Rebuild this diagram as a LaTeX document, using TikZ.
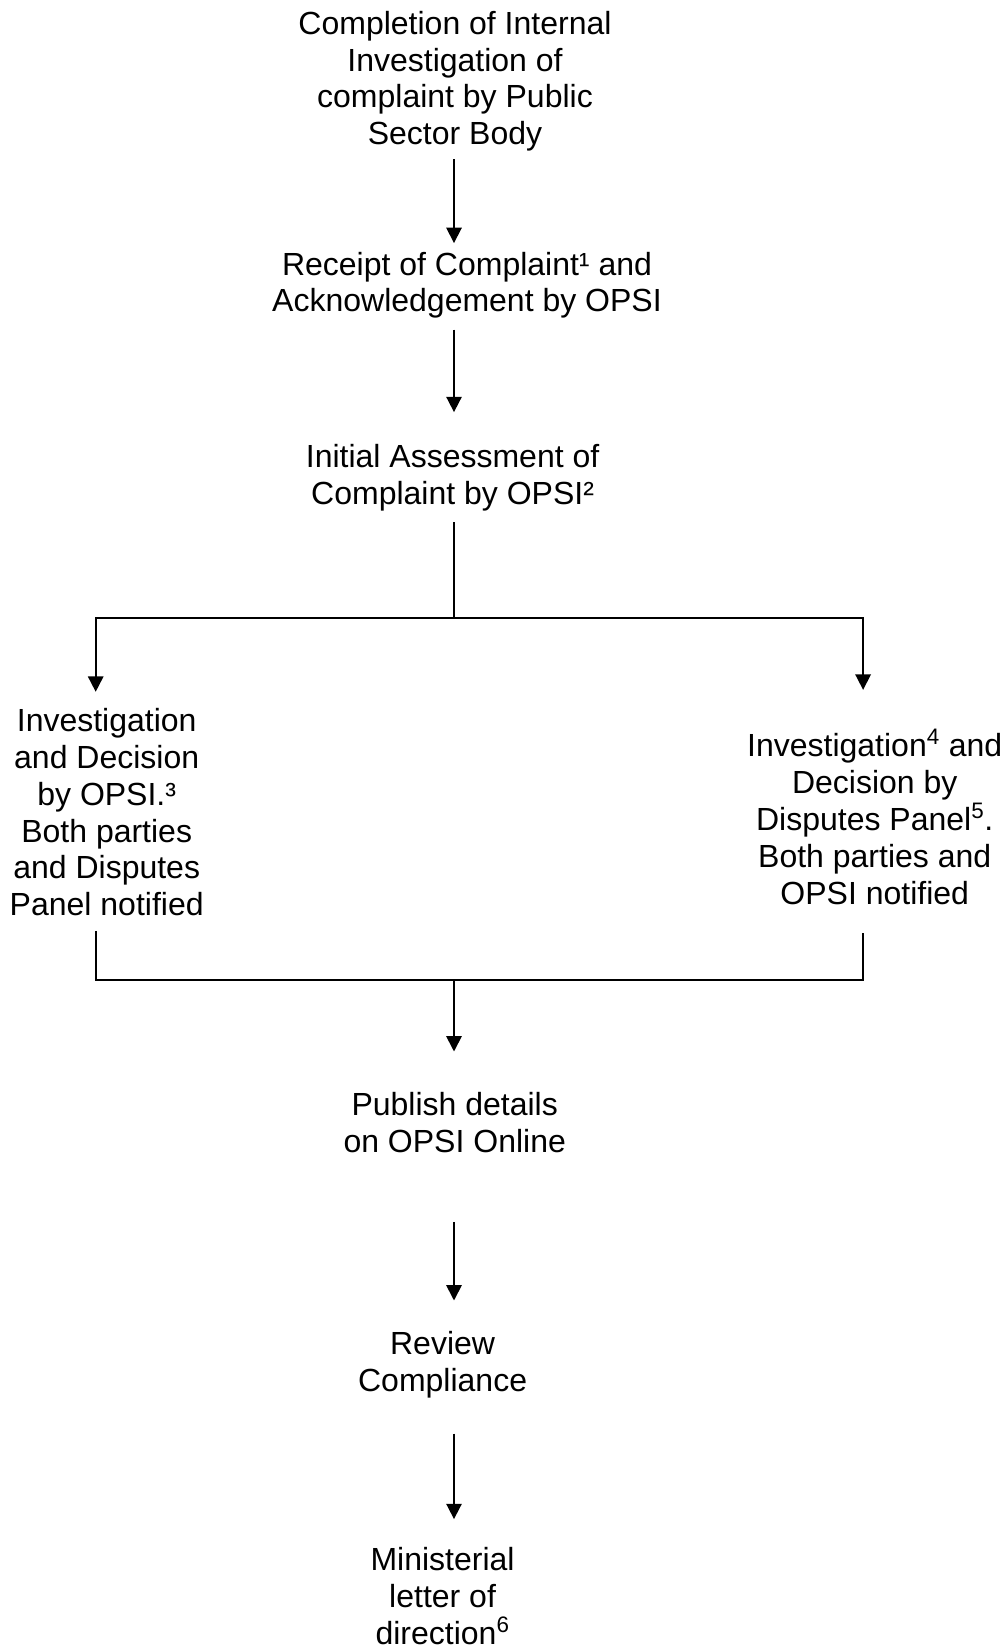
\documentclass[tikz,border=0pt]{standalone}
\usepackage{fontspec}
\setmainfont{Liberation Sans}
\usetikzlibrary{arrows.meta}
\tikzset{
  txt/.style={inner sep=0pt, align=center, font=\fontsize{24pt}{27.6pt}\selectfont},
  conn/.style={line width=1.3pt},
  arr/.style={line width=1.3pt, -{Triangle[width=11.5pt,length=11.5pt]}}
}
\begin{document}
\begin{tikzpicture}[x=0.75pt,y=-0.75pt]
\useasboundingbox (0,0) rectangle (1005,1648);
\coordinate (col) at (454,0);
\coordinate (lcol) at (95.7,0);
\coordinate (rcol) at (863.1,0);
\node[txt] (n1) at (455,81.3) {Completion of Internal\\Investigation of\\complaint by Public\\Sector Body};
\node[txt] (n2) at (467,285.3) {Receipt of Complaint¹ and\\Acknowledgement by OPSI};
\node[txt] (n3) at (452.6,477.7) {Initial Assessment of\\Complaint by OPSI²};
\node[txt] (n4) at (106.7,812.2) {Investigation\\and Decision\\by OPSI.³\\Both parties\\and Disputes\\Panel notified};
\node[txt] (n5) at (874.7,816.9) {Investigation\textsuperscript{4} and\\Decision by\\Disputes Panel\textsuperscript{5}.\\Both parties and\\OPSI notified};
\node[txt] (n6) at (454.7,1122.3) {Publish details\\on OPSI Online};
\node[txt] (n7) at (442.6,1365) {Review\\Compliance};
\node[txt] (n8) at (442.6,1595.9) {Ministerial\\letter of\\direction\textsuperscript{6}};
\coordinate (split) at (454,618.2);
\coordinate (join) at (454,979.8);
\draw[arr, shorten <=5.75pt, shorten >=6.5pt] (n1.south -| col) -- (n2.north -| col);
\draw[arr, shorten <=8.15pt, shorten >=24pt] (n2.south -| col) -- (n3.north -| col);
\draw[conn, shorten <=8.05pt] (n3.south -| col) -- (split);
\draw[arr, shorten >=12.3pt] (split) -| (lcol |- n4.north);
\draw[arr, shorten >=29.5pt] (split) -| (rcol |- n5.north);
\draw[conn, shorten <=11pt] (lcol |- n4.south) |- (join);
\draw[conn, shorten <=21.6pt] (rcol |- n5.south) |- (join);
\draw[arr, shorten >=30.3pt] (join) -- (n6.north -| col);
\draw[arr, shorten <=51.8pt, shorten >=23.2pt] (n6.south -| col) -- (n7.north -| col);
\draw[arr, shorten <=26.25pt, shorten >=21pt] (n7.south -| col) -- (n8.north -| col);
\end{tikzpicture}
\end{document}
